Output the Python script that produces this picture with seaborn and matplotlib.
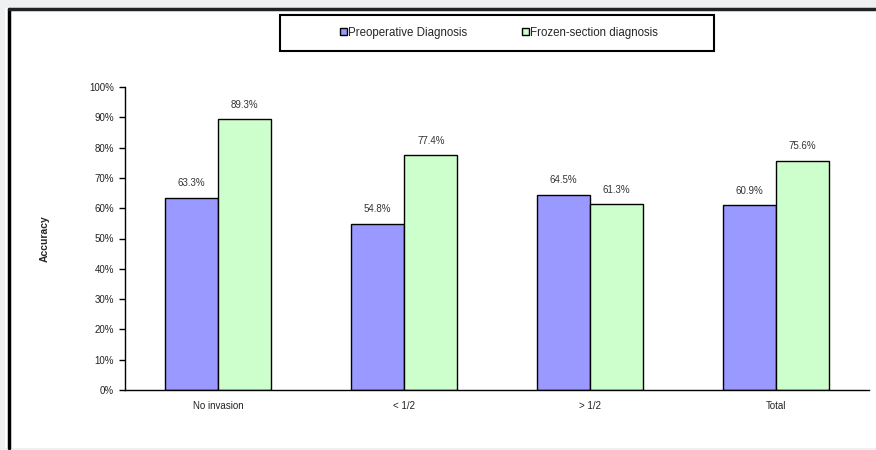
import pandas as pd
import matplotlib.pyplot as plt
import seaborn as sns
from matplotlib.patches import Rectangle
from matplotlib.lines import Line2D

# Data
CATEGORIES = ["No invasion", "< 1/2", "> 1/2", "Total"]
PREOP = [63.3, 54.8, 64.5, 60.9]
FROZEN = [89.3, 77.4, 61.3, 75.6]
SERIES = ["Preoperative Diagnosis", "Frozen-section diagnosis"]
COLORS = ["#9999ff", "#ccffcc"]

df = pd.DataFrame({
    "Category": CATEGORIES * 2,
    "Series": [SERIES[0]] * 4 + [SERIES[1]] * 4,
    "Accuracy": PREOP + FROZEN,
})

sns.set_theme(style="white")
plt.rcParams["font.family"] = ["Liberation Sans", "DejaVu Sans"]

fig = plt.figure(figsize=(8.76, 4.5), dpi=100, facecolor="#eff0f2")

# white panel with dark left/top border
fig.patches.append(Rectangle((5 / 876, 2 / 450), 1, 1 - 10 / 450,
                             transform=fig.transFigure, facecolor="white",
                             edgecolor="none", zorder=-2))
fig.add_artist(Line2D([9 / 876, 9 / 876], [2 / 450, 1 - 9 / 450],
                      transform=fig.transFigure, color="black", lw=2.5))
fig.add_artist(Line2D([9 / 876, 1], [1 - 9 / 450, 1 - 9 / 450],
                      transform=fig.transFigure, color="#222222", lw=2.5))

ax = fig.add_axes([125 / 876, 1 - 390 / 450, 744 / 876, 303 / 450])
ax.set_facecolor("white")

sns.barplot(data=df, x="Category", y="Accuracy", hue="Series",
            palette=COLORS, width=0.575, edgecolor="black", linewidth=1.0,
            ax=ax, legend=False, saturation=1)

for container in ax.containers:
    ax.bar_label(container, labels=[f"{v:.1f}%" for v in container.datavalues],
                 padding=7, fontsize=7, color="#333333")

ax.set_xlim(-0.5, 3.5)
ax.set_ylim(0, 100)
ax.set_yticks(range(0, 101, 10))
ax.set_yticklabels([f"{v}%" for v in range(0, 101, 10)], fontsize=7, color="#222222")
ax.set_xticks(range(4))
ax.set_xticklabels(CATEGORIES, fontsize=7, color="#222222")
ax.set_xticks([-0.5, 0.5, 1.5, 2.5, 3.5], minor=True)
ax.tick_params(axis="x", which="major", length=0, pad=8)
ax.tick_params(axis="x", which="minor", direction="out", length=4, width=1, color="black")
ax.tick_params(axis="y", direction="out", length=4, width=1, color="black", pad=4, left=True)
ax.set_xlabel("")
ax.set_ylabel("Accuracy", fontsize=7.5, fontweight="bold", labelpad=28)

for side in ["top", "right"]:
    ax.spines[side].set_visible(False)
for side in ["left", "bottom"]:
    ax.spines[side].set_color("black")
    ax.spines[side].set_linewidth(1.0)

# legend box
fig.patches.append(Rectangle((280 / 876, 1 - 51 / 450), 434 / 876, 36 / 450,
                             transform=fig.transFigure, facecolor="white",
                             edgecolor="black", linewidth=1.5))
handles = [Rectangle((0, 0), 1, 1, facecolor=c, edgecolor="black", lw=1.0) for c in COLORS]
fig.legend(handles, SERIES, loc="center", ncol=2, frameon=False, fontsize=8.3,
           bbox_to_anchor=(499 / 876, 1 - 33 / 450), handlelength=0.55,
           handleheight=0.55, handletextpad=0.1, columnspacing=4.8)

plt.savefig("out.png", dpi=100, facecolor=fig.get_facecolor())
